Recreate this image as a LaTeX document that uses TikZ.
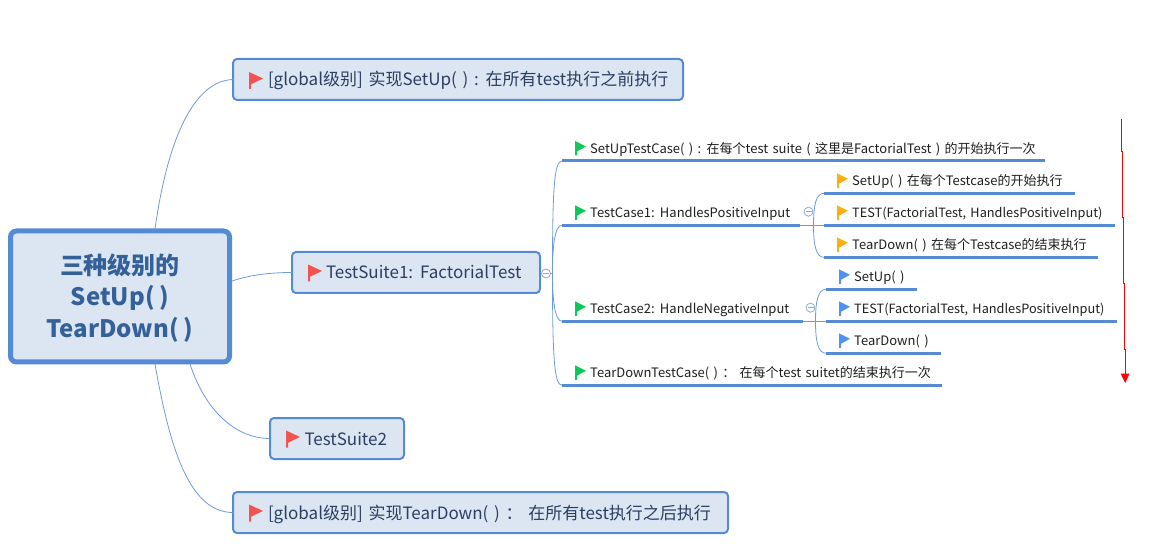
\documentclass[tikz,border=0pt]{standalone}
\usepackage{fontspec}
\setmainfont[WordSpace=1.5]{Noto Sans CJK SC}
\newfontfamily\rootfont[WordSpace=0.9]{Noto Sans CJK SC}
\usetikzlibrary{calc}
\definecolor{mapblue}{HTML}{558BD5}
\definecolor{linkblue}{HTML}{6C9BDC}
\definecolor{boxfill}{HTML}{DCE6F2}
\definecolor{boxtext}{HTML}{2A3F62}
\definecolor{roottext}{HTML}{35619B}
\definecolor{itemtext}{HTML}{1E1E1E}
\definecolor{flagred}{HTML}{F25350}
\definecolor{flaggreen}{HTML}{0FC75A}
\definecolor{flagorange}{HTML}{FDAE12}
\definecolor{flagblue}{HTML}{4F94F2}
\definecolor{foldgray}{HTML}{8FAAD3}
\tikzset{
  x=1pt,y=-1pt,
  rootbox/.style={draw=mapblue,fill=boxfill,line width=5pt,rounded corners=6pt,minimum width=219pt,minimum height=131pt,inner sep=0pt,outer sep=0pt,align=center,font=\rootfont\fontsize{24}{31.5}\selectfont\bfseries,text=roottext},
  topicbox/.style={draw=mapblue,fill=boxfill,line width=2pt,rounded corners=4pt,minimum height=41pt,inner sep=0pt,outer sep=0pt,anchor=west,text height=14pt,text depth=1pt,font=\fontsize{17}{20}\selectfont,text=boxtext},
  itemlabel/.style={inner sep=0pt,anchor=base west,font=\fontsize{13}{15}\selectfont,text=itemtext},
  underline/.style={draw=mapblue,line width=3pt},
  link/.style={draw=linkblue,line width=0.8pt},
  foldmark/.style={circle,draw=foldgray,fill=white,line width=0.8pt,minimum size=9pt,inner sep=0pt},
}
\newcommand{\flagmark}[5]{% x,y,w,h,color
  \fill[#5] (#1,#2) -- ({#1+#3},{#2+0.38*#4}) -- ({#1+2},{#2+0.72*#4}) -- ({#1+2},{#2+#4}) -- (#1,{#2+#4}) -- cycle;}
\newcommand{\itemline}[6]{% name,x0,x1,y,colour,text
  \coordinate (#1-l) at (#2,#4);
  \coordinate (#1-r) at (#3,#4);
  \draw[underline] (#1-l) -- (#1-r);
  \flagmark{#2+13}{#4-20}{11}{14.5}{#5}
  \node[itemlabel] (#1) at ({#2+28},{#4-7.6}) {#6};}
\newcommand{\foldminus}[1]{\draw[foldgray,line width=0.8pt] ($(#1.center)+(-3,0)$) -- ($(#1.center)+(3,0)$);}
\newcommand{\testsize}{\fontsize{12.75}{15}\selectfont}
\begin{document}
\begin{tikzpicture}
\useasboundingbox (0,0) rectangle (1165,553);
\node[rootbox] (root) at (120,296.5) {\rule{0pt}{23pt}三种级别的\\SetUp( )\\TearDown( )};
\node[topicbox] (n1) at (233,79.5) {\makebox[450pt][l]{\hspace{35pt}[global级别] 实现SetUp( ) : 在所有test执行之前执行}};
\node[topicbox] (n2) at (292,272.5) {\makebox[248pt][l]{\hspace{34pt}TestSuite1: FactorialTest}};
\node[topicbox] (n3) at (270,438.5) {\makebox[134pt][l]{\hspace{34.5pt}TestSuite2}};
\node[topicbox] (n4) at (233,512.5) {\makebox[495pt][l]{\hspace{35pt}[global级别] 实现TearDown( ) ： 在所有test执行之后执行}};
\flagmark{249}{72}{14}{17}{flagred}
\flagmark{308}{264.5}{14}{17}{flagred}
\flagmark{286}{430.5}{14}{17}{flagred}
\flagmark{249}{504.5}{14}{17}{flagred}
% root connectors
\coordinate (rt) at (155,229);
\coordinate (rr) at (232,281);
\coordinate (rb1) at (190,364);
\coordinate (rb2) at (155,364);
\draw[link] (rt) .. controls (166,150) and (190,81) .. (n1.west);
\draw[link] (rr) .. controls (250,275) and (270,272.5) .. (n2.west);
\draw[link] (rb1) .. controls (205,410) and (235,438.5) .. (n3.west);
\draw[link] (rb2) .. controls (170,450) and (190,512.5) .. (n4.west);
% items
\itemline{a}{562}{1045}{161}{flaggreen}{SetUpTestCase( ) : 在每个test suite ( 这里是FactorialTest ) 的开始执行一次}
\itemline{b}{562}{800}{225.3}{flaggreen}{TestCase1: HandlesPositiveInput}
\itemline{c}{562}{803}{321.3}{flaggreen}{TestCase2: HandleNegativeInput}
\itemline{d}{562}{942}{385.3}{flaggreen}{TearDownTestCase( ) ： 在每个test suitet的结束执行一次}
\itemline{b1}{824}{1075}{193.3}{flagorange}{SetUp( ) 在每个Testcase的开始执行}
\itemline{b2}{824}{1115}{225.3}{flagorange}{\testsize TEST(FactorialTest, HandlesPositiveInput)}
\itemline{b3}{824}{1098}{257.3}{flagorange}{TearDown( ) 在每个Testcase的结束执行}
\itemline{c1}{826}{917}{289.3}{flagblue}{SetUp( )}
\itemline{c2}{826}{1117}{321.3}{flagblue}{\testsize TEST(FactorialTest, HandlesPositiveInput)}
\itemline{c3}{826}{941}{353.3}{flagblue}{TearDown( )}
% fold marks and branches
\node[foldmark] (f0) at (546,273.5) {};
\node[foldmark] (f1) at (808.5,211.7) {};
\node[foldmark] (f2) at (810.5,307.7) {};
\foldminus{f0}\foldminus{f1}\foldminus{f2}
\coordinate (j0) at (552.5,273.5);
\coordinate (j1) at (813.5,225.3);
\coordinate (j2) at (815.5,321.3);
\draw[link] (n2.east) -- (f0) -- (j0);
\draw[link] (b-r) -- (b2-l);
\draw[link] (c-r) -- (c2-l);
\draw[link] (j0) .. controls (552.5,190) and (554,161) .. (a-l);
\draw[link] (j0) .. controls (552.5,250) and (554,225.3) .. (b-l);
\draw[link] (j0) .. controls (552.5,295) and (554,321.3) .. (c-l);
\draw[link] (j0) .. controls (552.5,355) and (554,385.3) .. (d-l);
\draw[link] (j1) .. controls (813.5,205) and (816,193.3) .. (b1-l);
\draw[link] (j1) .. controls (813.5,245) and (816,257.3) .. (b3-l);
\draw[link] (j2) .. controls (815.5,301) and (818,289.3) .. (c1-l);
\draw[link] (j2) .. controls (815.5,341) and (818,353.3) .. (c3-l);
% red arrow
\coordinate (r0) at (1121.5,119);
\coordinate (r1) at (1121.5,152);
\coordinate (r2) at (1122.5,152);
\coordinate (r3) at (1122.5,218);
\coordinate (r4) at (1123.5,218);
\coordinate (r5) at (1123.5,284);
\coordinate (r6) at (1124.5,284);
\coordinate (r7) at (1124.5,350);
\coordinate (r8) at (1125.5,350);
\coordinate (r9) at (1125.5,376);
\draw[red,line width=1pt] (r0) -- (r1) -- (r2) -- (r3) -- (r4) -- (r5) -- (r6) -- (r7) -- (r8) -- (r9);
\fill[red] (1120.5,373.5) -- (1129.5,373.5) -- (1125.3,383) -- cycle;
\end{tikzpicture}
\end{document}
